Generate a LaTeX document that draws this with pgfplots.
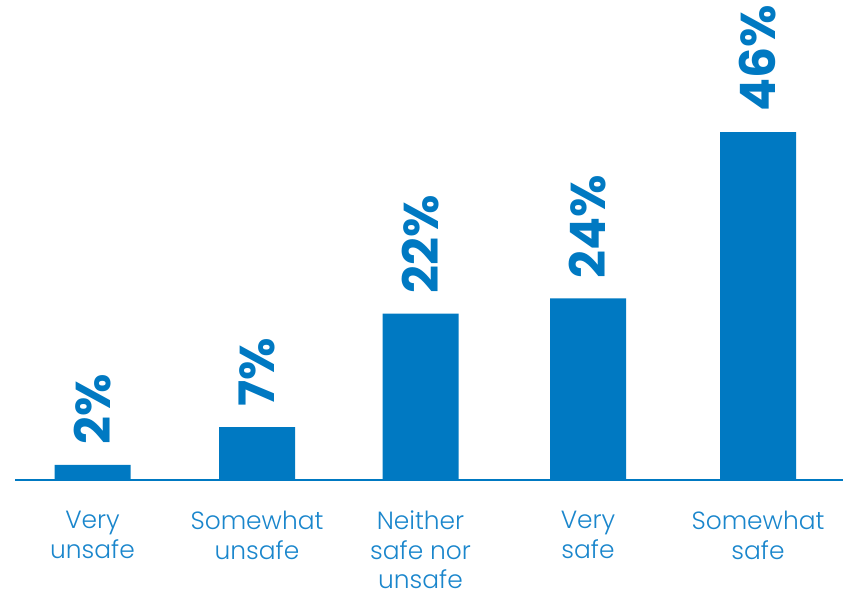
\documentclass[border=0pt]{standalone}
\usepackage{fontspec}
\setmainfont{Poppins}
\newfontfamily\lightfont{Poppins Light}
\usepackage{pgfplots}
\pgfplotsset{compat=1.18}
\definecolor{bblue}{HTML}{0079C2}
\definecolor{tblue}{HTML}{1A86CC}
\begin{document}
\begin{tikzpicture}
\useasboundingbox (-15bp,-113bp) rectangle (828bp,480bp);
\begin{axis}[
  at={(0,0)}, anchor=south west,
  scale only axis, width=828bp, height=480bp,
  xmin=15, xmax=843, ymin=0, ymax=63.45,
  clip=false,
  axis x line=bottom, axis y line=none,
  x axis line style={-, draw=bblue, line width=1.2pt},
  ytick=\empty,
  xtick={92.5,257,420.5,588,758},
  xticklabels={Very\\unsafe, Somewhat\\unsafe, Neither\\safe nor\\unsafe, Very\\safe, Somewhat\\safe},
  major tick length=0pt,
  xticklabel style={font=\lightfont\fontsize{25}{29.5}\selectfont, text=tblue, align=center, anchor=north, inner sep=0pt, yshift=-31bp},
  ybar, bar width=76bp,
  nodes near coords={\pgfmathprintnumber[assume math mode=true]{\pgfplotspointmeta}\%},
  every node near coord/.append style={rotate=90, anchor=west, inner xsep=20bp, inner ysep=0pt, text=bblue, font=\bfseries\fontsize{49}{49}\selectfont},
]
\addplot[fill=bblue, draw=none] coordinates {(92.5,2) (257,7) (420.5,22) (588,24) (758,46)};
\end{axis}
\end{tikzpicture}
\end{document}
